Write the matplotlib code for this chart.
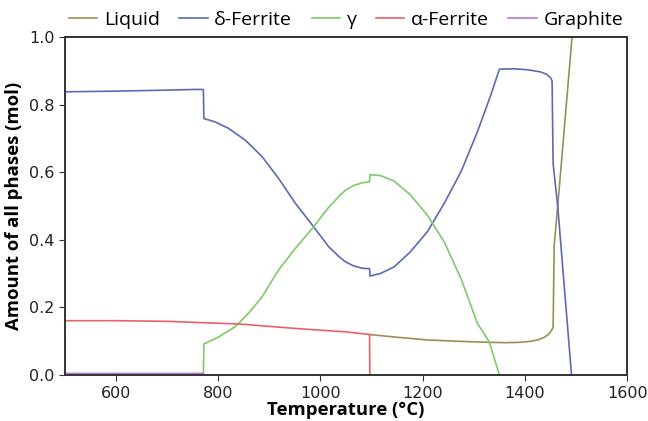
import numpy as np
import matplotlib.pyplot as plt

# phase amounts (T in °C, amount in mol)
T_liq = [1096, 1150, 1209, 1270, 1330, 1363, 1390, 1410, 1425, 1438, 1447, 1453, 1455, 1457, 1464, 1492, 1500]
y_liq = [0.120, 0.112, 0.104, 0.100, 0.097, 0.096, 0.097, 0.100, 0.104, 0.112, 0.122, 0.135, 0.143, 0.381, 0.50, 1.0, 1.0]

T_delta = [500, 600, 700, 755, 771, 772, 794, 820, 853, 886, 918, 951, 984, 1016, 1035, 1049, 1065, 1082, 1096, 1097,
           1118, 1144, 1176, 1209, 1242, 1275, 1307, 1333, 1350, 1380, 1406, 1430, 1442, 1450, 1453,
           1455, 1464, 1471, 1491]
y_delta = [0.838, 0.840, 0.843, 0.845, 0.845, 0.759, 0.749, 0.730, 0.695, 0.646, 0.582, 0.508, 0.444, 0.380, 0.352, 0.335, 0.323, 0.316, 0.315, 0.293,
           0.301, 0.320, 0.365, 0.424, 0.508, 0.602, 0.720, 0.828, 0.905, 0.906, 0.903, 0.897, 0.890, 0.880, 0.870,
           0.625, 0.50, 0.37, 0.0]

T_gamma = [771, 772, 801, 833, 859, 886, 918, 951, 984, 1016, 1035, 1049, 1065, 1082, 1096, 1097, 1118, 1144, 1176, 1209,
           1242, 1275, 1307, 1330, 1350]
y_gamma = [0.0, 0.092, 0.113, 0.143, 0.182, 0.232, 0.311, 0.375, 0.434, 0.496, 0.527, 0.547, 0.561, 0.569, 0.572, 0.593, 0.590, 0.574, 0.533, 0.473,
           0.394, 0.285, 0.153, 0.099, 0.0]

T_alpha = [500, 600, 700, 755, 843, 951, 1049, 1096, 1096.5]
y_alpha = [0.161, 0.161, 0.159, 0.156, 0.151, 0.138, 0.128, 0.120, 0.0]

T_graph = [500, 700, 771, 772]
y_graph = [0.005, 0.005, 0.005, 0.0]

fig = plt.figure(figsize=(6.48, 4.21), dpi=100)
ax = fig.add_axes([0.100, 0.109, 0.868, 0.803])

lw = 1.2
ax.plot(T_liq, y_liq, color='#9c8f55', lw=lw, label='Liquid')
ax.plot(T_delta, y_delta, color='#5b6ab5', lw=lw, label='δ-Ferrite')
ax.plot(T_gamma, y_gamma, color='#7ccb6a', lw=lw, label='γ')
ax.plot(T_alpha, y_alpha, color='#e8606a', lw=lw, label='α-Ferrite')
ax.plot(T_graph, y_graph, color='#b07ad0', lw=lw, label='Graphite')

ax.set_xlim(500, 1600)
ax.set_ylim(0, 1.0)
ax.set_xticks([600, 800, 1000, 1200, 1400, 1600])
ax.set_yticks([0.0, 0.2, 0.4, 0.6, 0.8, 1.0])
ax.tick_params(labelsize=11.5, color='#333333', labelcolor='#222222', length=4)
for s in ax.spines.values():
    s.set_linewidth(1.4)
    s.set_color('#333333')

ax.set_xlabel('Temperature (°C)', fontsize=13.3, fontweight='bold', family='Open Sans', labelpad=0)
ax.set_ylabel('Amount of all phases (mol)', fontsize=13.3, fontweight='bold', family='Open Sans', labelpad=4)

ax.legend(loc='lower center', bbox_to_anchor=(0.5, 1.0), ncol=5, frameon=False,
          prop={'family': 'Open Sans', 'size': 14}, handlelength=1.45, columnspacing=1.0,
          handletextpad=0.35, borderaxespad=0.0)

fig.savefig('out.png', dpi=100)
